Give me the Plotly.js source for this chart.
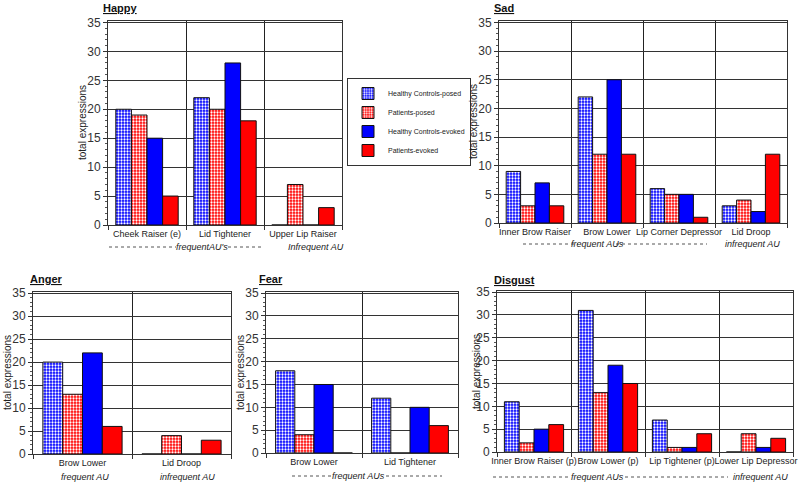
<!DOCTYPE html>
<html><head><meta charset="utf-8">
<script src="https://cdn.plot.ly/plotly-3.0.1.min.js"></script>
<style>html,body{margin:0;padding:0;background:#fff}#chart{width:800px;height:487px}</style>
</head><body><div id="chart"></div>
<script>
const seriesNames = ["Healthy Controls-posed", "Patients-posed", "Healthy Controls-evoked", "Patients-evoked"];

const happyCats = ["Cheek Raiser (e)", "Lid Tightener", "Upper Lip Raiser"];
const happyHCposed = [20, 22, 0];
const happyPposed = [19, 20, 7];
const happyHCevoked = [15, 28, 0];
const happyPevoked = [5, 18, 3];

const sadCats = ["Inner Brow Raiser", "Brow Lower", "Lip Corner Depressor", "Lid Droop"];
const sadHCposed = [9, 22, 6, 3];
const sadPposed = [3, 12, 5, 4];
const sadHCevoked = [7, 25, 5, 2];
const sadPevoked = [3, 12, 1, 12];

const angerCats = ["Brow Lower", "Lid Droop"];
const angerHCposed = [20, 0];
const angerPposed = [13, 4];
const angerHCevoked = [22, 0];
const angerPevoked = [6, 3];

const fearCats = ["Brow Lower", "Lid Tightener"];
const fearHCposed = [18, 12];
const fearPposed = [4, 0];
const fearHCevoked = [15, 10];
const fearPevoked = [0, 6];

const disgustCats = ["Inner Brow Raiser (p)", "Brow Lower (p)", "Lip Tightener (p)", "Lower Lip Depressor"];
const disgustHCposed = [11, 31, 7, 0];
const disgustPposed = [2, 13, 1, 4];
const disgustHCevoked = [5, 19, 1, 1];
const disgustPevoked = [6, 15, 4, 3];

const W = 800, H = 487;
const px = x => x / W;
const py = y => 1 - y / H;

const panels = [
  {cats: happyCats, vals: [happyHCposed, happyPposed, happyHCevoked, happyPevoked], xa: 'x', ya: 'y'},
  {cats: sadCats, vals: [sadHCposed, sadPposed, sadHCevoked, sadPevoked], xa: 'x2', ya: 'y2'},
  {cats: angerCats, vals: [angerHCposed, angerPposed, angerHCevoked, angerPevoked], xa: 'x3', ya: 'y3'},
  {cats: fearCats, vals: [fearHCposed, fearPposed, fearHCevoked, fearPevoked], xa: 'x4', ya: 'y4'},
  {cats: disgustCats, vals: [disgustHCposed, disgustPposed, disgustHCevoked, disgustPevoked], xa: 'x5', ya: 'y5'}
];

const styles = [
  {color: '#0000ff', pattern: {shape: '.', fgcolor: '#ffffff', bgcolor: '#0000ff', size: 3, solidity: 0.45, fillmode: 'replace'}},
  {color: '#ff0000', pattern: {shape: '.', fgcolor: '#ffffff', bgcolor: '#ff0000', size: 3, solidity: 0.45, fillmode: 'replace'}},
  {color: '#0000ff'},
  {color: '#ff0000'}
];

const traces = [];
panels.forEach((p, pi) => {
  p.vals.forEach((v, si) => {
    const m = Object.assign({line: {color: '#111', width: 1}}, styles[si]);
    traces.push({
      type: 'bar', x: p.cats, y: v, name: seriesNames[si],
      xaxis: p.xa, yaxis: p.ya, marker: m,
      showlegend: pi === 0, legendgroup: 's' + si, hoverinfo: 'x+y+name'
    });
  });
});

function yax(top, bottom, anchor) {
  return {
    domain: [py(bottom), py(top)], anchor: anchor, range: [0, 35.25], tick0: 0, dtick: 5,
    showgrid: true, gridcolor: '#333', gridwidth: 1, zeroline: false,
    showline: true, linecolor: '#333', linewidth: 1, mirror: true,
    ticks: 'outside', ticklen: 4, tickcolor: '#333',
    tickfont: {family: 'Liberation Sans, Arial, sans-serif', size: 12, color: '#333'},
    minor: {dtick: 1, ticks: 'outside', ticklen: 2, tickcolor: '#555', showgrid: false},
    fixedrange: true
  };
}
function xax(left, right, anchor) {
  return {
    domain: [px(left), px(right)], anchor: anchor, type: 'category', tickson: 'boundaries',
    showgrid: true, gridcolor: '#222', gridwidth: 1,
    showline: true, linecolor: '#333', linewidth: 1, mirror: true,
    ticks: 'outside', ticklen: 4, tickcolor: '#333', tickangle: 0,
    tickfont: {family: 'Liberation Sans, Arial, sans-serif', size: 9, color: '#222'},
    fixedrange: true
  };
}

const ann = [];
function title(t, x, y) {
  ann.push({text: '<b><u>' + t + '</u></b>', x: px(x), y: py(y), xref: 'paper', yref: 'paper',
    xanchor: 'left', yanchor: 'middle', showarrow: false,
    font: {family: 'Liberation Sans, Arial, sans-serif', size: 11, color: '#111'}});
}
function ytitle(x, y) {
  ann.push({text: 'total expressions', x: px(x), y: py(y), xref: 'paper', yref: 'paper',
    xanchor: 'center', yanchor: 'middle', textangle: -90, showarrow: false,
    font: {family: 'Liberation Sans, Arial, sans-serif', size: 10, color: '#222'}});
}
function note(t, x, y) {
  ann.push({text: '<i>' + t + '</i>', x: px(x), y: py(y), xref: 'paper', yref: 'paper',
    xanchor: 'center', yanchor: 'middle', showarrow: false,
    font: {family: 'Liberation Sans, Arial, sans-serif', size: 9, color: '#222'}});
}
const shapes = [];
function dash(x0, x1, y) {
  shapes.push({type: 'line', xref: 'paper', yref: 'paper', x0: px(x0), x1: px(x1), y0: py(y), y1: py(y),
    line: {color: '#555', width: 1, dash: 'dot'}});
}

title('Happy', 101, 8); title('Sad', 492, 8); title('Anger', 28, 279); title('Fear', 257, 279); title('Disgust', 492, 280);
ytitle(82, 123); ytitle(473, 122); ytitle(7, 373); ytitle(240, 373); ytitle(476, 372);

note('frequentAU\'s', 202, 247); dash(109, 176, 247); dash(228, 263, 247); note('Infrequent AU', 316, 247);
note('frequent AUs', 597, 244); dash(523, 578, 244); dash(616, 707, 244); note('infrequent AU', 752, 244);
note('frequent AU', 85, 477); note('infrequent AU', 187, 477);
note('frequent AUs', 358, 476); dash(292, 331, 476); dash(386, 442, 476);
note('frequent AUs', 597, 477); dash(493, 570, 477); dash(625, 728, 477); note('infrequent AU', 760, 477);

const layout = {
  width: W, height: H, margin: {l: 0, r: 0, t: 0, b: 0},
  paper_bgcolor: '#fff', plot_bgcolor: '#fff',
  barmode: 'group', bargap: 0.2, bargroupgap: 0,
  font: {family: 'Liberation Sans, Arial, sans-serif', color: '#222'},
  xaxis: xax(108, 342, 'y'), yaxis: yax(21, 225, 'x'),
  xaxis2: xax(499, 787, 'y2'), yaxis2: yax(21, 223, 'x2'),
  xaxis3: xax(33, 231, 'y3'), yaxis3: yax(292, 454, 'x3'),
  xaxis4: xax(266, 458, 'y4'), yaxis4: yax(292, 453, 'x4'),
  xaxis5: xax(497, 793, 'y5'), yaxis5: yax(291, 452, 'x5'),
  legend: {x: px(347), y: py(78), xanchor: 'left', yanchor: 'top', bgcolor: '#fff',
    bordercolor: '#333', borderwidth: 1, itemwidth: 30, font: {size: 7, color: '#222'}, traceorder: 'normal'},
  annotations: ann, shapes: shapes
};

Plotly.newPlot('chart', traces, layout, {staticPlot: true, displayModeBar: false});
</script>
</body></html>
